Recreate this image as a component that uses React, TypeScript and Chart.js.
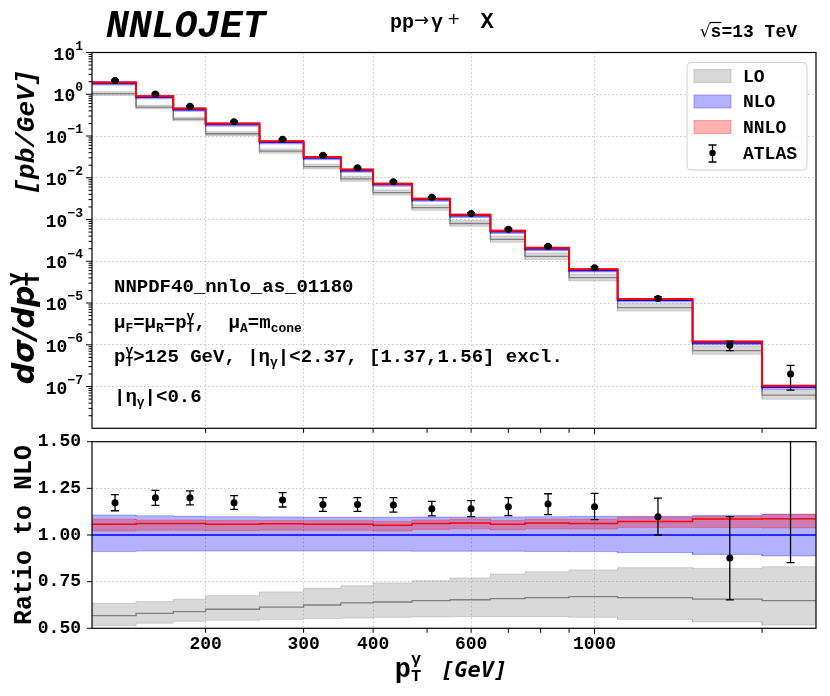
import React, { useEffect, useRef } from "react";
import { Chart, registerables } from "chart.js";

Chart.register(...registerables);

// ---------------- data ----------------
const BIN_EDGES = [125, 150, 175, 200, 250, 300, 350, 400, 470, 550, 650, 750, 900, 1100, 1500, 2000, 2500];
// NLO central cross section, pb/GeV
const NLO_XSEC = [1.82, 0.85, 0.429, 0.188, 0.0706, 0.0297, 0.01485, 0.00687, 0.00298, 0.00123, 5.09e-4, 1.97e-4, 6.06e-5, 1.17e-5, 1.11e-6, 9.6e-8];
// everything below is a ratio to NLO central
const NLO_RATIO = [1, 1, 1, 1, 1, 1, 1, 1, 1, 1, 1, 1, 1, 1, 1, 1];
const NLO_UP = [1.107, 1.103, 1.1, 1.098, 1.097, 1.095, 1.095, 1.095, 1.096, 1.096, 1.097, 1.098, 1.1, 1.1, 1.105, 1.11];
const NLO_DN = [0.911, 0.914, 0.914, 0.914, 0.914, 0.914, 0.914, 0.914, 0.913, 0.913, 0.913, 0.912, 0.911, 0.906, 0.896, 0.888];
const NNLO_RATIO = [1.057, 1.061, 1.061, 1.057, 1.06, 1.057, 1.057, 1.052, 1.061, 1.064, 1.057, 1.064, 1.062, 1.073, 1.086, 1.087];
const NNLO_UP = [1.085, 1.08, 1.08, 1.078, 1.078, 1.077, 1.077, 1.073, 1.08, 1.085, 1.078, 1.085, 1.085, 1.095, 1.1, 1.112];
const NNLO_DN = [1.022, 1.025, 1.025, 1.024, 1.026, 1.025, 1.025, 1.022, 1.03, 1.033, 1.028, 1.033, 1.032, 1.04, 1.04, 1.038];
const LO_RATIO = [0.568, 0.58, 0.589, 0.602, 0.614, 0.625, 0.636, 0.641, 0.648, 0.653, 0.659, 0.664, 0.67, 0.664, 0.656, 0.648];
const LO_UP = [0.634, 0.643, 0.656, 0.675, 0.695, 0.714, 0.728, 0.743, 0.755, 0.77, 0.791, 0.803, 0.813, 0.825, 0.821, 0.83];
const LO_DN = [0.513, 0.527, 0.538, 0.543, 0.548, 0.552, 0.555, 0.559, 0.561, 0.562, 0.562, 0.562, 0.559, 0.548, 0.534, 0.518];
const ATLAS_RATIO = [1.173, 1.2, 1.2, 1.173, 1.187, 1.164, 1.164, 1.161, 1.141, 1.141, 1.152, 1.166, 1.152, 1.098, 0.877, 2.08];
const ATLAS_UP = [1.216, 1.239, 1.237, 1.211, 1.227, 1.2, 1.2, 1.2, 1.18, 1.184, 1.2, 1.221, 1.223, 1.198, 1.098, 3.33];
const ATLAS_DN = [1.13, 1.159, 1.161, 1.137, 1.15, 1.127, 1.127, 1.123, 1.102, 1.098, 1.104, 1.109, 1.082, 1.0, 0.652, 0.852];

const X_LABEL_TICKS = [200, 300, 400, 600, 1000];
const X_MINOR_TICKS = [500, 700, 800, 900, 2000];
const Y_LABEL_EXPONENTS = [1, 0, -1, -2, -3, -4, -5, -6, -7];
const RATIO_TICKS = [0.5, 0.75, 1.0, 1.25, 1.5];

// ---------------- styles ----------------
const MONO = '"Liberation Mono", "Courier New", monospace';
const fm = (size: number, style = "bold") => `${style} ${size}px ${MONO}`;
const DJSM = '"DejaVu Sans Mono", monospace';
const DJS = '"DejaVu Sans", sans-serif';

const LO_FILL = "rgba(128,128,128,0.3)";
const LO_EDGE = "rgba(128,128,128,0.3)";
const NLO_FILL = "rgba(0,0,255,0.3)";
const NLO_EDGE = "rgba(0,0,255,0.3)";
const NNLO_FILL = "rgba(255,0,0,0.3)";
const NNLO_EDGE = "rgba(255,0,0,0.3)";
const GRID = "rgba(176,176,176,0.9)";

const CANVAS_W = 830;
const CANVAS_H = 696;
const AREA_LEFT = 92;
const AREA_RIGHT = 816;
const TOP_AREA = { top: 52.5, bottom: 428.3 };
const BOT_AREA = { top: 441.7, bottom: 628.3 };

// ---------------- helpers ----------------
function stepPoints(vals: number[]) {
  const pts: { x: number; y: number }[] = [];
  vals.forEach((v, i) => {
    pts.push({ x: BIN_EDGES[i], y: v }, { x: BIN_EDGES[i + 1], y: v });
  });
  return pts;
}
const CENTERS = BIN_EDGES.slice(0, -1).map((e, i) => (e + BIN_EDGES[i + 1]) / 2);

type Seg = { t: string; font: string; dy?: number; dx?: number; noAdv?: boolean };
function richWidth(ctx: CanvasRenderingContext2D, segs: Seg[]) {
  let w = 0;
  for (const s of segs) {
    ctx.font = s.font;
    w += (s.dx || 0) + (s.noAdv ? 0 : ctx.measureText(s.t).width);
  }
  return w;
}
function drawRich(ctx: CanvasRenderingContext2D, x: number, y: number, segs: Seg[], align = "left") {
  const w = richWidth(ctx, segs);
  let cx = align === "left" ? x : align === "center" ? x - w / 2 : x - w;
  ctx.textAlign = "left";
  ctx.textBaseline = "alphabetic";
  for (const s of segs) {
    ctx.font = s.font;
    cx += s.dx || 0;
    ctx.fillText(s.t, cx, y + (s.dy || 0));
    if (!s.noAdv) cx += ctx.measureText(s.t).width;
  }
  return cx;
}

function buildDatasets(scaleOf: (i: number) => number, top: boolean) {
  const m = (arr: number[]) => arr.map((r, i) => r * scaleOf(i));
  const base = { pointRadius: 0, pointHoverRadius: 0, tension: 0, spanGaps: true };
  return [
    { ...base, label: "LO_dn", data: stepPoints(m(LO_DN)), borderColor: LO_EDGE, borderWidth: 1, fill: false, order: 17 },
    { ...base, label: "LO_up", data: stepPoints(m(LO_UP)), borderColor: LO_EDGE, borderWidth: 1, fill: 0, backgroundColor: LO_FILL, order: 16 },
    { ...base, label: "LO", data: stepPoints(m(LO_RATIO)), borderColor: "#7f7f7f", borderWidth: 1.3, fill: false, order: 15 },
    { ...base, label: "NLO_dn", data: stepPoints(m(NLO_DN)), borderColor: NLO_EDGE, borderWidth: 1, fill: false, order: 14 },
    { ...base, label: "NLO_up", data: stepPoints(m(NLO_UP)), borderColor: NLO_EDGE, borderWidth: 1, fill: 3, backgroundColor: NLO_FILL, order: 13 },
    { ...base, label: "NLO", data: stepPoints(m(NLO_RATIO)), borderColor: "#0000ff", borderWidth: top ? 1.6 : 1.4, fill: false, order: 12 },
    { ...base, label: "NNLO_dn", data: stepPoints(m(NNLO_DN)), borderColor: NNLO_EDGE, borderWidth: 1, fill: false, order: 11 },
    { ...base, label: "NNLO_up", data: stepPoints(m(NNLO_UP)), borderColor: NNLO_EDGE, borderWidth: 1, fill: 6, backgroundColor: NNLO_FILL, order: 10 },
    { ...base, label: "NNLO", data: stepPoints(m(NNLO_RATIO)), borderColor: "#ff0000", borderWidth: top ? 2 : 1.5, fill: false, order: 9 },
    {
      label: "ATLAS",
      type: "scatter",
      errorBars: true,
      data: CENTERS.map((c, i) => ({
        x: c,
        y: ATLAS_RATIO[i] * scaleOf(i),
        yMin: ATLAS_DN[i] * scaleOf(i),
        yMax: ATLAS_UP[i] * scaleOf(i),
      })),
      showLine: false,
      pointRadius: 3.5,
      pointHoverRadius: 3.5,
      pointBackgroundColor: "#000",
      pointBorderColor: "#000",
      pointBorderWidth: 0,
      order: 1,
    },
  ];
}

const errorBarPlugin = {
  id: "errorBars",
  beforeDatasetDraw(chart: any, args: any) {
    const ds = chart.data.datasets[args.index];
    if (!ds.errorBars) return;
    const { ctx, chartArea: a } = chart;
    const ys = chart.scales.y;
    ctx.save();
    ctx.beginPath();
    ctx.rect(a.left, a.top, a.right - a.left, a.bottom - a.top);
    ctx.clip();
    ctx.strokeStyle = "#000";
    ctx.lineWidth = 1.3;
    ctx.beginPath();
    args.meta.data.forEach((pt: any, i: number) => {
      const d = ds.data[i];
      const x = pt.x;
      const y1 = ys.getPixelForValue(d.yMax);
      const y2 = ys.getPixelForValue(d.yMin);
      ctx.moveTo(x, y1);
      ctx.lineTo(x, y2);
      ctx.moveTo(x - 4, y1);
      ctx.lineTo(x + 4, y1);
      ctx.moveTo(x - 4, y2);
      ctx.lineTo(x + 4, y2);
    });
    ctx.stroke();
    ctx.restore();
  },
};

function drawFrame(ctx: CanvasRenderingContext2D, a: any) {
  ctx.strokeStyle = "#000";
  ctx.lineWidth = 1.2;
  ctx.strokeRect(a.left, a.top, a.right - a.left, a.bottom - a.top);
}

function drawXTicks(ctx: CanvasRenderingContext2D, xs: any, a: any) {
  ctx.strokeStyle = "#000";
  ctx.lineWidth = 1;
  ctx.beginPath();
  for (const v of [...X_LABEL_TICKS, ...X_MINOR_TICKS]) {
    const px = xs.getPixelForValue(v);
    const len = v === 1000 ? 6 : 4.5;
    ctx.moveTo(px, a.bottom);
    ctx.lineTo(px, a.bottom + len);
  }
  ctx.stroke();
}

function drawLegend(ctx: CanvasRenderingContext2D) {
  const bx = 687, by = 62.5, bw = 120, bh = 107.5, r = 4;
  ctx.save();
  ctx.beginPath();
  ctx.moveTo(bx + r, by);
  ctx.arcTo(bx + bw, by, bx + bw, by + bh, r);
  ctx.arcTo(bx + bw, by + bh, bx, by + bh, r);
  ctx.arcTo(bx, by + bh, bx, by, r);
  ctx.arcTo(bx, by, bx + bw, by, r);
  ctx.closePath();
  ctx.fillStyle = "rgba(255,255,255,0.85)";
  ctx.fill();
  ctx.strokeStyle = "#d0d0d0";
  ctx.lineWidth = 1;
  ctx.stroke();
  const items = [
    { label: "LO", fill: LO_FILL, edge: "rgba(128,128,128,0.35)", y: 76 },
    { label: "NLO", fill: NLO_FILL, edge: "rgba(0,0,255,0.3)", y: 101.5 },
    { label: "NNLO", fill: NNLO_FILL, edge: "rgba(255,0,0,0.3)", y: 127 },
  ];
  for (const it of items) {
    ctx.fillStyle = it.fill;
    ctx.fillRect(694, it.y - 6.5, 37, 13);
    ctx.strokeStyle = it.edge;
    ctx.strokeRect(694, it.y - 6.5, 37, 13);
    ctx.fillStyle = "#000";
    ctx.font = fm(18);
    ctx.textAlign = "left";
    ctx.textBaseline = "middle";
    ctx.fillText(it.label, 743, it.y + 1);
  }
  // ATLAS marker with error bar
  const mx = 712.5, my = 153;
  ctx.strokeStyle = "#000";
  ctx.lineWidth = 1.3;
  ctx.beginPath();
  ctx.moveTo(mx, my - 8); ctx.lineTo(mx, my + 9);
  ctx.moveTo(mx - 4, my - 8); ctx.lineTo(mx + 4, my - 8);
  ctx.moveTo(mx - 4, my + 9); ctx.lineTo(mx + 4, my + 9);
  ctx.stroke();
  ctx.fillStyle = "#000";
  ctx.beginPath();
  ctx.arc(mx, my, 3.2, 0, Math.PI * 2);
  ctx.fill();
  ctx.font = fm(18);
  ctx.textBaseline = "middle";
  ctx.fillText("ATLAS", 743, my + 1);
  ctx.restore();
}

const topDecor = {
  id: "topDecor",
  afterDraw(chart: any) {
    const { ctx, chartArea: a } = chart;
    const xs = chart.scales.x;
    const ys = chart.scales.y;
    ctx.save();
    drawFrame(ctx, a);
    drawXTicks(ctx, xs, a);
    // y ticks: decades and minor
    ctx.beginPath();
    ctx.lineWidth = 1;
    for (let e = -8; e <= 1; e++) {
      const base = Math.pow(10, e);
      if (e > -8) {
        const py = ys.getPixelForValue(base);
        ctx.moveTo(a.left - 6, py);
        ctx.lineTo(a.left, py);
      }
      if (e < 1) {
        for (let k = 2; k <= 9; k++) {
          const p = ys.getPixelForValue(k * base);
          ctx.moveTo(a.left - 3.5, p);
          ctx.lineTo(a.left, p);
        }
      }
    }
    ctx.stroke();
    // y tick labels with superscripts
    ctx.fillStyle = "#000";
    ctx.textAlign = "left";
    ctx.textBaseline = "alphabetic";
    for (const e of Y_LABEL_EXPONENTS) {
      const py = ys.getPixelForValue(Math.pow(10, e));
      const exp = e < 0 ? "\u2212" + Math.abs(e) : String(e);
      ctx.font = fm(13);
      const w2 = ctx.measureText(exp).width;
      ctx.font = fm(18);
      const w1 = ctx.measureText("10").width;
      const xe = a.left - 9;
      ctx.fillText("10", xe - w2 - w1, py + 7);
      ctx.font = fm(13);
      ctx.fillText(exp, xe - w2, py - 3);
    }

    // titles
    ctx.fillStyle = "#000";
    ctx.font = fm(38, "italic bold");
    ctx.textAlign = "left";
    ctx.fillText("NNLOJET", 106, 37);

    drawRich(ctx, 390, 28, [
      { t: "pp", font: fm(20) },
      { t: "\u2192", font: `18px ${DJS}`, dy: -2, dx: 0 },
      { t: "\u03b3", font: fm(20), dx: 2 },
      { t: "+", font: `16px ${DJS}`, dy: -4, dx: 4 },
      { t: "X", font: fm(22), dx: 20 },
    ]);

    // sqrt(s) = 13 TeV
    {
      const end = 797, base = 37;
      const segs: Seg[] = [
        { t: "\u221a", font: `17px ${DJS}` },
        { t: "s", font: fm(18) },
        { t: "=13 TeV", font: fm(18) },
      ];
      const w = richWidth(ctx, segs);
      const x0 = end - w;
      ctx.font = `17px ${DJS}`;
      const ws = ctx.measureText("\u221a").width;
      ctx.font = fm(18);
      const wss = ctx.measureText("s").width;
      drawRich(ctx, x0, base, segs);
      ctx.strokeStyle = "#000";
      ctx.lineWidth = 1.2;
      ctx.beginPath();
      ctx.moveTo(x0 + ws - 1, base - 14.5);
      ctx.lineTo(x0 + ws + wss, base - 14.5);
      ctx.stroke();
    }

    // info lines
    const main = fm(19);
    const small = fm(13);
    ctx.fillStyle = "#000";
    drawRich(ctx, 114, 291.5, [{ t: "NNPDF40_nnlo_as_01180", font: main }]);
    drawRich(ctx, 114, 328, [
      { t: "\u03bc", font: main },
      { t: "F", font: small, dy: 4 },
      { t: "=", font: main },
      { t: "\u03bc", font: main },
      { t: "R", font: small, dy: 4 },
      { t: "=", font: main },
      { t: "p", font: main },
      { t: "\u03b3", font: small, dy: -8, noAdv: true },
      { t: "T", font: small, dy: 4 },
      { t: ",  ", font: main },
      { t: "\u03bc", font: main },
      { t: "A", font: small, dy: 4 },
      { t: "=", font: main },
      { t: "m", font: main },
      { t: "cone", font: small, dy: 4 },
    ]);
    drawRich(ctx, 114, 362, [
      { t: "p", font: main },
      { t: "\u03b3", font: small, dy: -8, noAdv: true },
      { t: "T", font: small, dy: 4 },
      { t: ">125 GeV, |\u03b7", font: main },
      { t: "\u03b3", font: small, dy: 4 },
      { t: "|<2.37, [1.37,1.56] excl.", font: main },
    ]);
    drawRich(ctx, 114, 402, [
      { t: "|\u03b7", font: main },
      { t: "\u03b3", font: small, dy: 4 },
      { t: "|<0.6", font: main },
    ]);

    // y axis title (rotated)
    ctx.save();
    ctx.translate(34, 227);
    ctx.rotate(-Math.PI / 2);
    drawRich(
      ctx,
      0,
      0,
      [
        { t: "d\u03c3/dp", font: `italic bold 30px ${DJS}` },
        { t: "\u03b3", font: `bold 19px ${DJS}`, dy: -13, noAdv: true },
        { t: "T", font: `bold 19px ${DJS}`, dy: 5 },
        { t: "[pb/GeV]", font: fm(26, "italic bold"), dx: 78 },
      ],
      "center"
    );
    ctx.restore();

    drawLegend(ctx);
    ctx.restore();
  },
};

const bottomDecor = {
  id: "bottomDecor",
  afterDraw(chart: any) {
    const { ctx, chartArea: a } = chart;
    const xs = chart.scales.x;
    const ys = chart.scales.y;
    ctx.save();
    drawFrame(ctx, a);
    drawXTicks(ctx, xs, a);
    ctx.beginPath();
    ctx.lineWidth = 1;
    for (const v of RATIO_TICKS) {
      const py = ys.getPixelForValue(v);
      ctx.moveTo(a.left - 5, py);
      ctx.lineTo(a.left, py);
    }
    ctx.stroke();

    // ratio label
    ctx.save();
    ctx.translate(31, (a.top + a.bottom) / 2);
    ctx.rotate(-Math.PI / 2);
    ctx.fillStyle = "#000";
    drawRich(ctx, 0, 0, [{ t: "Ratio to NLO", font: fm(25) }], "center");
    ctx.restore();

    // x title
    ctx.fillStyle = "#000";
    drawRich(
      ctx,
      451,
      677,
      [
        { t: "p", font: fm(27) },
        { t: "\u03b3", font: fm(17), dy: -13, noAdv: true },
        { t: "T", font: fm(17), dy: 4 },
        { t: "[GeV]", font: `italic bold 22px ${DJSM}`, dx: 20 },
      ],
      "center"
    );
    ctx.restore();
  },
};

function makeScales(top: boolean) {
  const gridCommon = { color: GRID, lineWidth: 0.8, drawTicks: false };
  const borderCommon = { display: false, dash: [1.5, 2.5] };
  const tickFont = { family: MONO, size: 18, weight: "bold" as const };
  const xHeight = top ? 0 : CANVAS_H - BOT_AREA.bottom;
  const yWidth = top ? 0 : AREA_LEFT;
  return {
    x: {
      type: "logarithmic" as const,
      min: 125,
      max: 2500,
      afterBuildTicks: (s: any) => {
        s.ticks = X_LABEL_TICKS.map((v) => ({ value: v }));
      },
      afterFit: (s: any) => {
        s.height = xHeight;
      },
      grid: gridCommon,
      border: borderCommon,
      ticks: {
        display: !top,
        autoSkip: false,
        maxRotation: 0,
        minRotation: 0,
        padding: 5,
        color: "#000",
        font: tickFont,
        callback: (v: any) => String(v),
      },
    },
    y: top
      ? {
          type: "logarithmic" as const,
          min: 1e-8,
          max: 10,
          afterBuildTicks: (s: any) => {
            s.ticks = Y_LABEL_EXPONENTS.map((e) => ({ value: Math.pow(10, e) }));
          },
          afterFit: (s: any) => {
            s.width = yWidth;
          },
          grid: gridCommon,
          border: borderCommon,
          ticks: { display: false },
        }
      : {
          type: "linear" as const,
          min: 0.5,
          max: 1.5,
          afterBuildTicks: (s: any) => {
            s.ticks = RATIO_TICKS.map((v) => ({ value: v }));
          },
          afterFit: (s: any) => {
            s.width = yWidth;
          },
          grid: gridCommon,
          border: borderCommon,
          ticks: {
            padding: 11,
            color: "#000",
            font: tickFont,
            callback: (v: any) => Number(v).toFixed(2),
          },
        },
  };
}

function makeConfig(top: boolean): any {
  const datasets = top ? buildDatasets((i) => NLO_XSEC[i], true) : buildDatasets(() => 1, false);
  return {
    type: "line",
    data: { datasets },
    options: {
      responsive: false,
      maintainAspectRatio: false,
      animation: false,
      events: [],
      layout: {
        padding: top
          ? { left: AREA_LEFT, right: CANVAS_W - AREA_RIGHT, top: TOP_AREA.top, bottom: CANVAS_H - TOP_AREA.bottom }
          : { left: 0, right: CANVAS_W - AREA_RIGHT, top: BOT_AREA.top, bottom: 0 },
      },
      plugins: {
        legend: { display: false },
        tooltip: { enabled: false },
        title: { display: false },
      },
      scales: makeScales(top),
    },
    plugins: [errorBarPlugin, top ? topDecor : bottomDecor],
  };
}

export default function App() {
  const topRef = useRef<HTMLCanvasElement>(null);
  const botRef = useRef<HTMLCanvasElement>(null);
  useEffect(() => {
    const c1 = new Chart(topRef.current as HTMLCanvasElement, makeConfig(true));
    const c2 = new Chart(botRef.current as HTMLCanvasElement, makeConfig(false));
    return () => {
      c1.destroy();
      c2.destroy();
    };
  }, []);
  return (
    <div style={{ position: "absolute", left: 0, top: 0, width: CANVAS_W, height: CANVAS_H, background: "#fff" }}>
      <canvas ref={topRef} width={CANVAS_W} height={CANVAS_H} style={{ position: "absolute", left: 0, top: 0 }} />
      <canvas ref={botRef} width={CANVAS_W} height={CANVAS_H} style={{ position: "absolute", left: 0, top: 0 }} />
    </div>
  );
}
